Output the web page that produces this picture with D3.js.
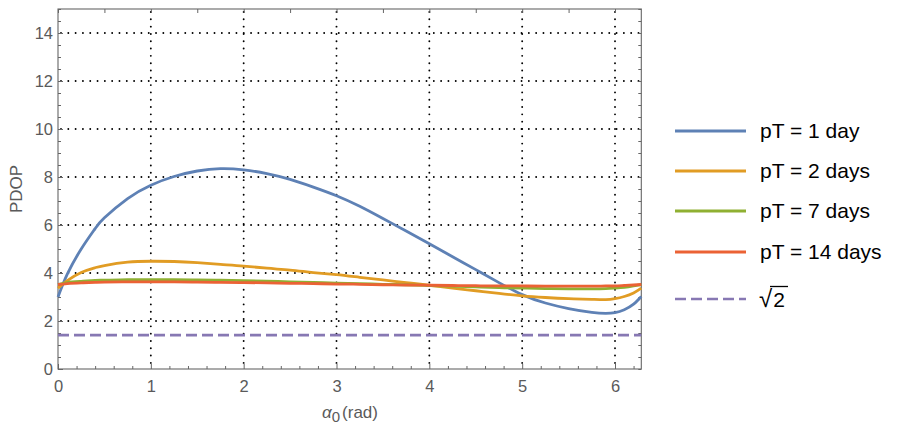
<!DOCTYPE html>
<html>
<head>
<meta charset="utf-8">
<script src="https://cdn.jsdelivr.net/npm/d3@7"></script>
<style>
  body { margin: 0; background: #fff; }
  svg { display: block; font-family: "Liberation Sans", Arial, sans-serif; }
</style>
</head>
<body>
<div id="chart"></div>
<script>
// alpha0 sample positions (rad)
const alpha = [0, 0.1, 0.25, 0.4, 0.5, 0.75, 1, 1.25, 1.5, 1.75, 2, 2.25, 2.5, 2.75, 3, 3.25, 3.5, 3.75,
  4, 4.25, 4.5, 4.75, 5, 5.25, 5.5, 5.75, 5.9, 6, 6.1, 6.2, 2 * Math.PI];

// PDOP
const pdop1 = [3.0, 3.95, 5.0, 5.85, 6.3, 7.1, 7.66, 8.02, 8.25, 8.35, 8.3, 8.14, 7.9, 7.58, 7.22, 6.78, 6.27, 5.75,
  5.22, 4.68, 4.14, 3.6, 3.1, 2.75, 2.52, 2.36, 2.32, 2.35, 2.47, 2.7, 3.02];
const pdop2 = [3.37, 3.68, 4.02, 4.22, 4.31, 4.45, 4.49, 4.48, 4.43, 4.36, 4.29, 4.2, 4.12, 4.02, 3.93, 3.82, 3.71, 3.6,
  3.49, 3.37, 3.26, 3.15, 3.05, 2.98, 2.93, 2.9, 2.89, 2.93, 3.02, 3.17, 3.37];
const pdop7 = [3.52, 3.6, 3.65, 3.69, 3.7, 3.72, 3.72, 3.72, 3.71, 3.7, 3.68, 3.66, 3.63, 3.61, 3.58, 3.56, 3.53, 3.51,
  3.48, 3.45, 3.42, 3.39, 3.37, 3.35, 3.34, 3.34, 3.35, 3.37, 3.4, 3.46, 3.52];
const pdop14 = [3.52, 3.56, 3.59, 3.61, 3.62, 3.63, 3.63, 3.63, 3.62, 3.61, 3.6, 3.59, 3.57, 3.56, 3.54, 3.53, 3.51, 3.5,
  3.49, 3.48, 3.47, 3.46, 3.46, 3.45, 3.45, 3.45, 3.46, 3.46, 3.48, 3.5, 3.52];
const bound = Math.SQRT2;

const labels = ["pT = 1 day", "pT = 2 days", "pT = 7 days", "pT = 14 days"];
const colors = ["#5e81b5", "#e19c24", "#8fb032", "#eb6235"];
const boundColor = "#8778b3";

const xTicks = [0, 1, 2, 3, 4, 5, 6];
const yTicks = [0, 2, 4, 6, 8, 10, 12, 14];

const W = 900, H = 427;
const pLeft = 58, pRight = 641.3, pTop = 9, pBottom = 369;

const svg = d3.select("#chart").append("svg")
  .attr("width", W).attr("height", H);

const x = d3.scaleLinear().domain([0, 2 * Math.PI]).range([pLeft, pRight]);
const y = d3.scaleLinear().domain([0, 15]).range([pBottom, pTop]);

// dotted grid
const grid = svg.append("g")
  .attr("stroke", "#000")
  .attr("stroke-width", 1.9)
  .attr("stroke-linecap", "round")
  .attr("stroke-dasharray", "0.01,7.3");
grid.selectAll(".gx").data(xTicks.slice(1)).join("line")
  .attr("x1", d => x(d)).attr("x2", d => x(d))
  .attr("y1", pTop + 3).attr("y2", pBottom);
grid.selectAll(".gy").data(yTicks.slice(1)).join("line")
  .attr("y1", d => y(d)).attr("y2", d => y(d))
  .attr("x1", pLeft + 3).attr("x2", pRight);

// frame ticks
const frameCol = "#666";
const halfSteps = d3.range(0, 15.01, 0.5);
const fifthSteps = d3.range(0, 2 * Math.PI, 0.2).map(v => +v.toFixed(1));
const fmt = d3.format("d");

function styleAxis(g) {
  g.select(".domain").remove();
  g.selectAll("line").attr("stroke", frameCol);
  g.selectAll("text").attr("fill", "#5a5a5a").attr("font-size", 16.5);
}

svg.append("g").attr("transform", `translate(${pLeft},0)`)
  .call(d3.axisLeft(y).tickValues(halfSteps.filter(v => v % 2 !== 0)).tickSize(-3).tickFormat(""))
  .call(styleAxis);
svg.append("g").attr("transform", `translate(${pLeft},0)`)
  .call(d3.axisLeft(y).tickValues(yTicks).tickSize(-5).tickPadding(5).tickFormat(fmt))
  .call(styleAxis);
svg.append("g").attr("transform", `translate(${pRight},0)`)
  .call(d3.axisRight(y).tickValues(halfSteps).tickSize(-3).tickFormat(""))
  .call(styleAxis);

svg.append("g").attr("transform", `translate(0,${pBottom})`)
  .call(d3.axisBottom(x).tickValues(fifthSteps.filter(v => Math.abs(v - Math.round(v)) > 0.01)).tickSize(-3).tickFormat(""))
  .call(styleAxis);
svg.append("g").attr("transform", `translate(0,${pBottom})`)
  .call(d3.axisBottom(x).tickValues(xTicks).tickSize(-5).tickPadding(11).tickFormat(fmt))
  .call(styleAxis);
svg.append("g").attr("transform", `translate(0,${pTop})`)
  .call(d3.axisTop(x).tickValues(d3.range(0, 6.3, 0.5)).tickSize(-4).tickFormat(""))
  .call(styleAxis);

svg.append("rect")
  .attr("x", pLeft).attr("y", pTop)
  .attr("width", pRight - pLeft).attr("height", pBottom - pTop)
  .attr("fill", "none").attr("stroke", frameCol).attr("stroke-width", 1.1);

// curves
const line = d3.line()
  .x((d, i) => x(alpha[i]))
  .y(d => y(d))
  .curve(d3.curveNatural);

const plot = svg.append("g");
plot.append("line")
  .attr("x1", x(0)).attr("x2", x(2 * Math.PI))
  .attr("y1", y(bound)).attr("y2", y(bound))
  .attr("stroke", boundColor).attr("stroke-width", 2.7)
  .attr("stroke-dasharray", "11,5");

[pdop1, pdop2, pdop7, pdop14].forEach((s, i) => {
  plot.append("path")
    .attr("d", line(s))
    .attr("fill", "none")
    .attr("stroke", colors[i])
    .attr("stroke-width", 2.8);
});

// axis labels
svg.append("text")
  .attr("transform", `translate(22,189) rotate(-90)`)
  .attr("text-anchor", "middle")
  .attr("fill", "#5a5a5a").attr("font-size", 17)
  .text("PDOP");

const xl = svg.append("text")
  .attr("x", 350).attr("y", 418)
  .attr("text-anchor", "middle")
  .attr("fill", "#5a5a5a").attr("font-size", 17);
xl.append("tspan").attr("font-style", "italic").text("α");
xl.append("tspan").attr("dy", 4).attr("font-size", 15).text("0");
xl.append("tspan").attr("dy", -4).attr("dx", 2).text("(rad)");

// legend
const rows = [131, 171, 211, 252];
const legend = svg.append("g");
labels.forEach((lab, i) => {
  legend.append("line")
    .attr("x1", 675).attr("x2", 746)
    .attr("y1", rows[i]).attr("y2", rows[i])
    .attr("stroke", colors[i]).attr("stroke-width", 2.8);
  legend.append("text")
    .attr("x", 760).attr("y", rows[i] + 7)
    .attr("font-size", 21).attr("fill", "#000")
    .text(lab);
});
legend.append("line")
  .attr("x1", 675).attr("x2", 746)
  .attr("y1", 299).attr("y2", 299)
  .attr("stroke", boundColor).attr("stroke-width", 2.7)
  .attr("stroke-dasharray", "11,5");
const sq = legend.append("text")
  .attr("x", 759).attr("y", 307)
  .attr("font-size", 21).attr("fill", "#000");
sq.append("tspan").attr("font-size", 24).text("√");
sq.append("tspan").attr("dx", 1).text("2");
legend.append("line")
  .attr("x1", 770).attr("x2", 788)
  .attr("y1", 286.5).attr("y2", 286.5)
  .attr("stroke", "#000").attr("stroke-width", 1.3);
</script>
</body>
</html>
